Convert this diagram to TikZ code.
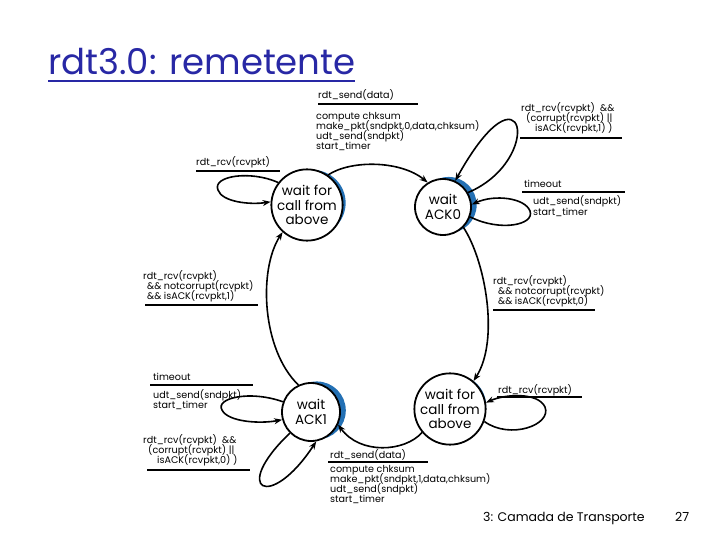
\documentclass[tikz,border=0pt]{standalone}
\usepackage{fontspec}
\setmainfont{Poppins}
\usetikzlibrary{arrows.meta}
\definecolor{titleblue}{RGB}{40,40,165}
\definecolor{crescent}{RGB}{35,112,180}
\begin{document}
\begin{tikzpicture}[x=1pt,y=-1pt,
  fsmstate/.style={circle,draw,fill=white,line width=1.8pt,inner sep=0pt,align=center,
     font=\fontsize{13.5}{14.5}\selectfont},
  tr/.style={line width=1.6pt,-{Stealth[length=8pt,width=6pt]}},
  lbl/.style={anchor=base west,align=left,inner sep=0pt,font=\fontsize{9.6}{10}\selectfont},
  bar/.style={line width=1.8pt},
  blueback/.style={fill=crescent}]
\lineskiplimit=-100pt
\useasboundingbox (0,0) rectangle (720,540);
% title
\node[anchor=base west,inner sep=0pt,text=titleblue,font=\fontsize{35.5}{38}\selectfont] (title) at (48,75) {rdt3.0: remetente};
\draw[titleblue,line width=2pt] (48,81) -- (355,81);
% state centres
\coordinate (c1) at (307,205);
\coordinate (c2) at (443,207);
\coordinate (c3) at (311,412);
\coordinate (c4) at (450,409);
\fill[blueback] ([shift={(20:6pt)}]c1) circle[radius=33pt];
\fill[blueback] ([shift={(20:6pt)}]c2) circle[radius=28pt];
\fill[blueback] ([shift={(15:6pt)}]c3) circle[radius=29pt];
\fill[blueback] ([shift={(30:6pt)}]c4) circle[radius=31pt];
\node[fsmstate,minimum size=66pt] (s1) at (c1) {wait for\\call from\\above};
\node[fsmstate,minimum size=56pt] (s2) at (c2) {wait\\ACK0};
\node[fsmstate,minimum size=58pt] (s3) at (c3) {wait\\ACK1};
\node[fsmstate,minimum size=62pt] (s4) at (c4) {wait for\\call from\\above};
% transitions
\draw[tr] (s1.55) .. controls (350,160) and (400,160) .. (s2.122);
\draw[tr] (s2.30) .. controls (545,160) and (525,55) .. (s2.65);
\draw[tr] (s2.-20) .. controls (500,232) and (535,225) .. (530,211) .. controls (525,198) and (495,194) .. (s2.5);
\draw[tr] (s2.-45) .. controls (485,260) and (500,340) .. (s4.50);
\draw[tr] (s4.-20) .. controls (510,440) and (552,425) .. (545,407) .. controls (538,392) and (505,394) .. (s4.10);
\draw[tr] (s4.220) .. controls (405,452) and (360,455) .. (s3.-25);
\draw[tr] (s3.160) .. controls (250,390) and (215,398) .. (222,410) .. controls (228,422) and (260,424) .. (s3.195);
\draw[tr] (s3.225) .. controls (230,490) and (270,512) .. (s3.280);
\draw[tr] (s3.115) .. controls (262,350) and (258,270) .. (s1.228);
\draw[tr] (s1.142) .. controls (250,170) and (212,176) .. (218,190) .. controls (222,202) and (250,205) .. (s1.175);
% labels (anchored at last baseline)
\node[lbl] (l1a) at (318,99) {rdt\_send(data)};
\draw[bar] (318,104) -- (418,104);
\node[lbl] (l1b) at (316,150) {compute chksum\\make\_pkt(sndpkt,0,data,chksum)\\udt\_send(sndpkt)\\start\_timer};
\node[lbl] (l2) at (521,132) {rdt\_rcv(rcvpkt) \ \&\&\\\hspace*{5pt}(corrupt(rcvpkt) ||\\\hspace*{14pt}isACK(rcvpkt,1) )};
\draw[bar] (520,138) -- (622,138);
\node[lbl] (l3a) at (524,188) {timeout};
\draw[bar] (522,192) -- (625,192);
\node[lbl] (l3b) at (533,215) {udt\_send(sndpkt)\\start\_timer};
\node[lbl] (l4) at (493,304) {rdt\_rcv(rcvpkt)\\\hspace*{5pt}\&\& notcorrupt(rcvpkt)\\\hspace*{5pt}\&\& isACK(rcvpkt,0)};
\draw[bar] (493,310) -- (595,310);
\node[lbl] (l5) at (196,166) {rdt\_rcv(rcvpkt)};
\draw[bar] (196,171) -- (280,171);
\node[lbl] (l6) at (143,299) {rdt\_rcv(rcvpkt)\\\hspace*{4pt}\&\& notcorrupt(rcvpkt)\\\hspace*{4pt}\&\& isACK(rcvpkt,1)};
\draw[bar] (145,305) -- (258,305);
\node[lbl] (l7a) at (153,380) {timeout};
\draw[bar] (150,385) -- (253,385);
\node[lbl] (l7b) at (153,408) {udt\_send(sndpkt)\\start\_timer};
\node[lbl] (l8) at (143,463) {rdt\_rcv(rcvpkt) \ \&\&\\\hspace*{5pt}(corrupt(rcvpkt) ||\\\hspace*{14pt}isACK(rcvpkt,0) )};
\draw[bar] (147,470) -- (250,470);
\node[lbl] (l9) at (498,393) {rdt\_rcv(rcvpkt)};
\draw[bar] (497,397) -- (582,397);
\node[lbl] (l10a) at (330,458) {rdt\_send(data)};
\draw[bar] (328,462) -- (428,462);
\node[lbl] (l10b) at (330,502) {compute chksum\\make\_pkt(sndpkt,1,data,chksum)\\udt\_send(sndpkt)\\start\_timer};
% footer
\node[anchor=base west,inner sep=0pt,font=\fontsize{12.5}{14}\selectfont] (foot) at (483,521) {3: Camada de Transporte};
\node[anchor=base west,inner sep=0pt,font=\fontsize{12.5}{14}\selectfont] (page) at (675,521) {27};
\end{tikzpicture}
\end{document}
